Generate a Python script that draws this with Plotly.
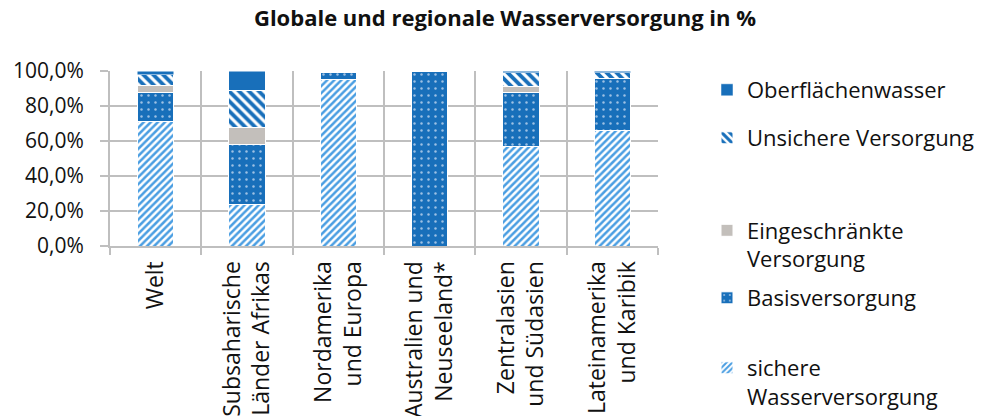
import plotly.graph_objects as go

categories = ["Welt", "Subsaharische<br>Länder Afrikas", "Nordamerika<br>und Europa",
              "Australien und<br>Neuseeland*", "Zentralasien<br>und Südasien",
              "Lateinamerika<br>und Karibik"]

sichere = [71, 24, 95, 0, 57, 66]
basis = [17, 34, 4, 100, 31, 30]
eingeschraenkt = [4, 10, 0, 0, 3, 0]
unsicher = [6, 21, 1, 0, 8, 3]
oberflaeche = [2, 11, 0, 0, 1, 1]

y_ticks = [0, 20, 40, 60, 80, 100]
y_ticktext = [f"{v:.1f}".replace(".", ",") + "%" for v in y_ticks]

title_text = "Globale und regionale Wasserversorgung in %"

DARK = "#186FBA"
LIGHT = "#4A9EE2"
GRAY = "#C3BFBB"
GRID = "#BFBFBF"
FONT = "Open Sans"

fig = go.Figure()

fig.add_bar(x=categories, y=sichere, name="sichere<br>Wasserversorgung",
            marker=dict(color="white", line=dict(color="white", width=1),
                        pattern=dict(shape="/", fgcolor=LIGHT, bgcolor="white",
                                     fgopacity=1, size=5, solidity=0.5,
                                     fillmode="overlay")),
            legend="legend5")
fig.add_bar(x=categories, y=basis, name="Basisversorgung",
            marker=dict(color=DARK, line=dict(color="white", width=1),
                        pattern=dict(shape=".", fgcolor="#9DC1E4", bgcolor=DARK,
                                     fgopacity=1, size=7, solidity=0.1,
                                     fillmode="overlay")),
            legend="legend4")
fig.add_bar(x=categories, y=eingeschraenkt, name="Eingeschränkte<br>Versorgung",
            marker=dict(color=GRAY, line=dict(color="white", width=1)),
            legend="legend3")
fig.add_bar(x=categories, y=unsicher, name="Unsichere Versorgung",
            marker=dict(color="white", line=dict(color="white", width=1),
                        pattern=dict(shape="\\", fgcolor=DARK, bgcolor="white",
                                     fgopacity=1, size=7, solidity=0.55,
                                     fillmode="overlay")),
            legend="legend2")
fig.add_bar(x=categories, y=oberflaeche, name="Oberflächenwasser",
            marker=dict(color=DARK, line=dict(color="white", width=0.5)),
            legend="legend")

W, H = 985, 416

def leg(cy, valign="top"):
    return dict(xref="container", yref="container", x=707 / W, y=1 - cy / H,
                xanchor="left", yanchor="middle", bgcolor="rgba(0,0,0,0)",
                font=dict(family=FONT, size=22, color="#111111"),
                valign=valign, itemwidth=30)

fig.update_layout(
    width=W, height=H,
    barmode="stack", bargap=0.6,
    paper_bgcolor="white", plot_bgcolor="white",
    margin=dict(l=110, r=W - 658, t=71, b=H - 246, autoexpand=False),
    font=dict(family=FONT, color="#111111"),
    title=dict(text="<b>" + title_text + "</b>", x=505 / W, xanchor="center",
               y=1 - 18 / H, yanchor="middle", xref="container", yref="container",
               font=dict(family=FONT, size=22, color="#111111")),
    showlegend=True,
    legend=leg(90),
    legend2=leg(138),
    legend3=leg(245),
    legend4=leg(298),
    legend5=leg(382.5),
    xaxis=dict(type="category", tickson="boundaries", showgrid=True,
               gridcolor=GRID, gridwidth=2, showline=True, linecolor=GRID,
               linewidth=2, ticks="outside", ticklen=7, tickcolor=GRID,
               tickwidth=2, tickangle=-90, automargin=False,
               ticklabelstandoff=4,
               tickfont=dict(family=FONT, size=23, color="#111111")),
    yaxis=dict(range=[0, 100], tickvals=y_ticks, ticktext=y_ticktext,
               showgrid=True, gridcolor=GRID, gridwidth=2,
               showline=True, linecolor=GRID, linewidth=2, ticks="outside",
               ticklen=8, tickcolor=GRID, tickwidth=2, zeroline=False,
               automargin=False, ticklabelstandoff=12,
               tickfont=dict(family=FONT, size=21, color="#111111")),
)

fig.write_html("out.html", config={"displayModeBar": False},
               post_script="document.body.style.margin='0';document.body.style.overflow='hidden';")
